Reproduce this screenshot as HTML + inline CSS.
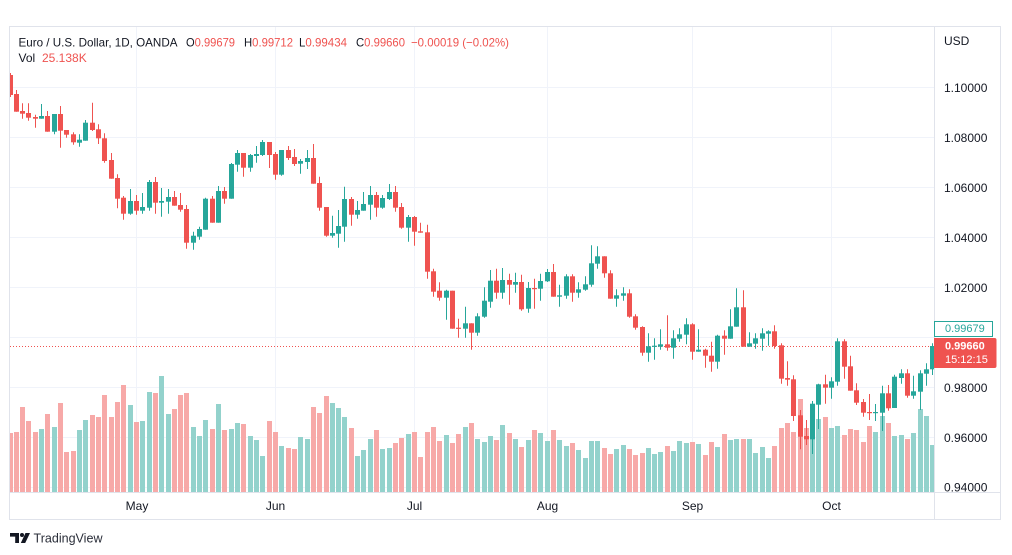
<!DOCTYPE html>
<html><head><meta charset="utf-8"><style>
html,body{margin:0;padding:0;background:#fff;}
svg{display:block;font-family:"Liberation Sans",sans-serif;}
</style></head><body>
<svg width="1012" height="555" viewBox="0 0 1012 555" xmlns="http://www.w3.org/2000/svg">
<defs><clipPath id="cp"><rect x="10" y="27" width="924" height="465"/></clipPath></defs>
<rect width="1012" height="555" fill="#fff"/>
<!-- grid -->
<g stroke="#f0f3fa" stroke-width="1">
<path d="M10 87.5H934M10 137.5H934M10 187.5H934M10 237.5H934M10 287.5H934M10 337.5H934M10 387.5H934M10 437.5H934M10 487.5H934"/>
<path d="M136.5 27V492M275.5 27V492M414.5 27V492M547.5 27V492M692.5 27V492M831.5 27V492"/>
</g>
<g clip-path="url(#cp)">
<!-- volume pink -->
<g fill="#f7a9a8">
<rect x="8" y="433" width="5" height="59"/><rect x="14" y="432" width="5" height="60"/><rect x="20" y="407" width="5" height="85"/><rect x="26" y="421" width="5" height="71"/><rect x="33" y="432" width="5" height="60"/><rect x="45" y="414" width="5" height="78"/><rect x="58" y="403" width="5" height="89"/><rect x="64" y="452" width="5" height="40"/><rect x="71" y="451" width="5" height="41"/><rect x="90" y="415" width="5" height="77"/><rect x="96" y="417" width="5" height="75"/><rect x="102" y="395" width="5" height="97"/><rect x="109" y="417" width="5" height="75"/><rect x="115" y="402" width="5" height="90"/><rect x="121" y="385" width="5" height="107"/><rect x="134" y="422" width="5" height="70"/><rect x="153" y="393" width="5" height="99"/><rect x="172" y="409" width="5" height="83"/><rect x="178" y="395" width="5" height="97"/><rect x="184" y="393" width="5" height="99"/><rect x="210" y="429" width="5" height="63"/><rect x="222" y="430" width="5" height="62"/><rect x="241" y="424" width="5" height="68"/><rect x="267" y="421" width="5" height="71"/><rect x="273" y="432" width="5" height="60"/><rect x="286" y="448" width="5" height="44"/><rect x="292" y="449" width="5" height="43"/><rect x="311" y="407" width="5" height="85"/><rect x="317" y="413" width="5" height="79"/><rect x="324" y="396" width="5" height="96"/><rect x="349" y="428" width="5" height="64"/><rect x="374" y="430" width="5" height="62"/><rect x="393" y="443" width="5" height="49"/><rect x="399" y="438" width="5" height="54"/><rect x="412" y="432" width="5" height="60"/><rect x="418" y="457" width="5" height="35"/><rect x="425" y="432" width="5" height="60"/><rect x="431" y="427" width="5" height="65"/><rect x="437" y="441" width="5" height="51"/><rect x="450" y="443" width="5" height="49"/><rect x="456" y="434" width="5" height="58"/><rect x="469" y="423" width="5" height="69"/><rect x="494" y="440" width="5" height="52"/><rect x="507" y="433" width="5" height="59"/><rect x="519" y="447" width="5" height="45"/><rect x="532" y="430" width="5" height="62"/><rect x="551" y="430" width="5" height="62"/><rect x="570" y="443" width="5" height="49"/><rect x="602" y="448" width="5" height="44"/><rect x="608" y="454" width="5" height="38"/><rect x="627" y="449" width="5" height="43"/><rect x="633" y="455" width="5" height="37"/><rect x="640" y="453" width="5" height="39"/><rect x="665" y="446" width="5" height="46"/><rect x="690" y="442" width="5" height="50"/><rect x="703" y="455" width="5" height="37"/><rect x="709" y="442" width="5" height="50"/><rect x="722" y="434" width="5" height="58"/><rect x="741" y="439" width="5" height="53"/><rect x="772" y="446" width="5" height="46"/><rect x="779" y="428" width="5" height="64"/><rect x="785" y="423" width="5" height="69"/><rect x="791" y="432" width="5" height="60"/><rect x="798" y="399" width="5" height="93"/><rect x="804" y="428" width="5" height="64"/><rect x="823" y="417" width="5" height="75"/><rect x="842" y="435" width="5" height="57"/><rect x="848" y="429" width="5" height="63"/><rect x="854" y="430" width="5" height="62"/><rect x="861" y="442" width="5" height="50"/><rect x="867" y="426" width="5" height="66"/><rect x="886" y="423" width="5" height="69"/><rect x="905" y="439" width="5" height="53"/>
</g>
<!-- volume green -->
<g fill="#93d2cc">
<rect x="39" y="429" width="5" height="63"/><rect x="52" y="427" width="5" height="65"/><rect x="77" y="430" width="5" height="62"/><rect x="83" y="420" width="5" height="72"/><rect x="128" y="405" width="5" height="87"/><rect x="140" y="421" width="5" height="71"/><rect x="147" y="392" width="5" height="100"/><rect x="159" y="376" width="5" height="116"/><rect x="166" y="414" width="5" height="78"/><rect x="191" y="427" width="5" height="65"/><rect x="197" y="436" width="5" height="56"/><rect x="203" y="420" width="5" height="72"/><rect x="216" y="404" width="5" height="88"/><rect x="229" y="429" width="5" height="63"/><rect x="235" y="423" width="5" height="69"/><rect x="248" y="436" width="5" height="56"/><rect x="254" y="440" width="5" height="52"/><rect x="260" y="456" width="5" height="36"/><rect x="279" y="446" width="5" height="46"/><rect x="298" y="437" width="5" height="55"/><rect x="305" y="439" width="5" height="53"/><rect x="330" y="403" width="5" height="89"/><rect x="336" y="408" width="5" height="84"/><rect x="342" y="417" width="5" height="75"/><rect x="355" y="456" width="5" height="36"/><rect x="361" y="450" width="5" height="42"/><rect x="368" y="439" width="5" height="53"/><rect x="380" y="449" width="5" height="43"/><rect x="387" y="448" width="5" height="44"/><rect x="406" y="434" width="5" height="58"/><rect x="444" y="435" width="5" height="57"/><rect x="463" y="427" width="5" height="65"/><rect x="475" y="439" width="5" height="53"/><rect x="482" y="442" width="5" height="50"/><rect x="488" y="436" width="5" height="56"/><rect x="500" y="425" width="5" height="67"/><rect x="513" y="439" width="5" height="53"/><rect x="526" y="440" width="5" height="52"/><rect x="538" y="433" width="5" height="59"/><rect x="545" y="441" width="5" height="51"/><rect x="557" y="440" width="5" height="52"/><rect x="564" y="446" width="5" height="46"/><rect x="576" y="450" width="5" height="42"/><rect x="583" y="458" width="5" height="34"/><rect x="589" y="441" width="5" height="51"/><rect x="595" y="441" width="5" height="51"/><rect x="614" y="449" width="5" height="43"/><rect x="621" y="445" width="5" height="47"/><rect x="646" y="448" width="5" height="44"/><rect x="652" y="454" width="5" height="38"/><rect x="658" y="452" width="5" height="40"/><rect x="671" y="451" width="5" height="41"/><rect x="677" y="441" width="5" height="51"/><rect x="684" y="443" width="5" height="49"/><rect x="696" y="444" width="5" height="48"/><rect x="715" y="447" width="5" height="45"/><rect x="728" y="440" width="5" height="52"/><rect x="734" y="439" width="5" height="53"/><rect x="747" y="439" width="5" height="53"/><rect x="753" y="453" width="5" height="39"/><rect x="760" y="447" width="5" height="45"/><rect x="766" y="458" width="5" height="34"/><rect x="810" y="436" width="5" height="56"/><rect x="816" y="419" width="5" height="73"/><rect x="829" y="428" width="5" height="64"/><rect x="835" y="426" width="5" height="66"/><rect x="873" y="432" width="5" height="60"/><rect x="880" y="416" width="5" height="76"/><rect x="892" y="436" width="5" height="56"/><rect x="899" y="435" width="5" height="57"/><rect x="911" y="433" width="5" height="59"/><rect x="918" y="409" width="5" height="83"/><rect x="924" y="416" width="5" height="76"/><rect x="930" y="445" width="5" height="47"/>
</g>
<!-- dotted last price line -->
<path d="M10 346.5H934" stroke="#ef5350" stroke-width="1" stroke-dasharray="1 2"/>
<!-- red wicks -->
<path stroke="#ef5350" stroke-width="1" fill="none" d="M10.5 73V97M16.5 90V111.7M22.5 103.3V118.7M28.5 103.3V120.7M35.5 114.7V127.7M47.5 111V131.7M60.5 106V147.7M66.5 130V137.7M73.5 132.3V144.7M92.5 102.7V131M98.5 124.3V144M104.5 133.3V162.7M111.5 153V178.7M117.5 174.3V208.3M123.5 196V219.7M136.5 195V214.7M155.5 177V213.7M174.5 191V205.7M180.5 193V211.7M186.5 205V248.7M212.5 196V222.7M224.5 187V203.7M243.5 153V176.7M269.5 142V168M275.5 152V179.7M288.5 146V160M294.5 149V166M313.5 144V183.7M319.5 176.7V210.7M326.5 207V236.7M351.5 197V225.7M376.5 192V216.7M395.5 186V211.7M401.5 203V228.7M414.5 216V245.7M420.5 222.7V232.7M427.5 224.7V278.7M433.5 268.7V296.7M439.5 282.3V300.7M452.5 290.7V328.7M458.5 318.7V337.7M471.5 323.3V349.7M496.5 268.7V298.7M509.5 273.7V304.7M521.5 274.7V310.7M534.5 278.7V308.7M553.5 264V296.7M572.5 274.3V301.7M604.5 256.3V277.7M610.5 270.3V298.7M629.5 289.3V317.7M635.5 314.3V329.7M642.5 326.3V355.7M667.5 315.3V350.7M692.5 323.3V359.7M705.5 348.7V367.7M711.5 341.7V371.7M724.5 330.3V354.7M743.5 290.3V346.7M774.5 325.3V348.7M781.5 343.3V383.7M787.5 361.3V385.7M793.5 375.3V421M800.5 410V449.3M806.5 420V445M825.5 374.7V403.7M844.5 339.3V378.7M850.5 355.7V390.7M856.5 383.3V405M863.5 399V416.7M869.5 394V420M888.5 385V410.7M907.5 369.3V397.7"/>
<!-- green wicks -->
<path stroke="#26a69a" stroke-width="1" fill="none" d="M41.5 104V118.7M54.5 114V134.3M79.5 134.3V146.7M85.5 120V140.7M130.5 189V214.7M142.5 193V213.7M149.5 180V210.7M161.5 188V216.7M168.5 189V213.7M193.5 231.7V249.7M199.5 226.7V239.7M205.5 197.7V229.7M218.5 186V222.7M231.5 163V198.7M237.5 150V171.7M250.5 154V171.7M256.5 146V162.7M262.5 140V156M281.5 150V175.7M300.5 159V173.7M307.5 150V169M332.5 215.7V237.7M338.5 210V247.7M344.5 186.7V241.7M357.5 201V218.7M363.5 192V210.7M370.5 186V219.7M382.5 195V208.7M389.5 184V200M408.5 215V241.7M446.5 289.7V319.7M465.5 306.7V337.7M477.5 313.3V335.7M484.5 287.3V317.7M490.5 270V307.7M502.5 268V298.7M515.5 272.7V292.7M528.5 282V312.7M540.5 273.7V300.7M547.5 269V282M559.5 284.7V306.7M566.5 274.3V298.7M578.5 282.3V297.7M585.5 276.3V290.7M591.5 245.3V286.7M597.5 246.3V268.7M616.5 289.3V306.7M623.5 287.3V300.7M648.5 333.3V361.7M654.5 338.3V359.7M660.5 329.3V349.7M673.5 330.3V358.7M679.5 328.3V341.7M686.5 318.3V344.3M698.5 329.3V351.7M717.5 334.7V368.7M730.5 309.3V338.7M736.5 288.3V326.7M749.5 332.3V346.7M755.5 333.3V348.7M762.5 328.3V350.7M768.5 330.3V345.7M812.5 401V454M818.5 383.7V429M831.5 377.3V398.7M837.5 338.3V385.7M875.5 404V421M882.5 385.7V431M894.5 374.7V408M901.5 369.3V383.7M913.5 375.7V398.7M920.5 370.3V410M926.5 363.3V385.7M932.5 343.3V375"/>
<!-- red bodies -->
<g fill="#ef5350">
<rect x="8" y="75" width="5" height="20"/><rect x="14" y="94" width="5" height="17.7"/><rect x="20" y="111" width="5" height="2.7"/><rect x="26" y="113" width="5" height="4.7"/><rect x="33" y="117" width="5" height="1.7"/><rect x="45" y="116" width="5" height="15.7"/><rect x="58" y="114" width="5" height="16.7"/><rect x="64" y="130" width="5" height="4.7"/><rect x="71" y="134.3" width="5" height="8"/><rect x="90" y="122.7" width="5" height="7.3"/><rect x="96" y="129.3" width="5" height="9"/><rect x="102" y="138.3" width="5" height="22.7"/><rect x="109" y="160" width="5" height="18.7"/><rect x="115" y="178" width="5" height="20.7"/><rect x="121" y="197.7" width="5" height="16"/><rect x="134" y="201" width="5" height="9.7"/><rect x="153" y="182" width="5" height="20.7"/><rect x="172" y="197" width="5" height="8.7"/><rect x="178" y="205" width="5" height="4.7"/><rect x="184" y="209" width="5" height="33.7"/><rect x="210" y="198.7" width="5" height="24"/><rect x="222" y="191" width="5" height="7.7"/><rect x="241" y="153" width="5" height="14.7"/><rect x="267" y="142" width="5" height="13"/><rect x="273" y="154" width="5" height="20.7"/><rect x="286" y="150" width="5" height="8"/><rect x="292" y="157" width="5" height="7"/><rect x="311" y="158" width="5" height="25.7"/><rect x="317" y="183" width="5" height="24.7"/><rect x="324" y="207" width="5" height="28.7"/><rect x="349" y="199" width="5" height="15.7"/><rect x="374" y="195" width="5" height="12.7"/><rect x="393" y="192" width="5" height="15.7"/><rect x="399" y="207" width="5" height="20.7"/><rect x="412" y="217" width="5" height="14.7"/><rect x="418" y="231.3" width="5" height="1.4"/><rect x="425" y="232.3" width="5" height="39.4"/><rect x="431" y="271.3" width="5" height="20.4"/><rect x="437" y="290.7" width="5" height="7"/><rect x="450" y="290.7" width="5" height="38"/><rect x="456" y="327.7" width="5" height="1.2"/><rect x="469" y="323.3" width="5" height="9.4"/><rect x="494" y="280.7" width="5" height="12"/><rect x="507" y="280" width="5" height="4.7"/><rect x="519" y="282" width="5" height="27.3"/><rect x="532" y="288" width="5" height="1.2"/><rect x="551" y="272" width="5" height="24.7"/><rect x="570" y="276.3" width="5" height="16.4"/><rect x="602" y="256.3" width="5" height="17"/><rect x="608" y="273.3" width="5" height="25.4"/><rect x="627" y="293.3" width="5" height="23.4"/><rect x="633" y="316.3" width="5" height="11.4"/><rect x="640" y="327" width="5" height="25.7"/><rect x="665" y="344.3" width="5" height="3.4"/><rect x="690" y="324.3" width="5" height="27.4"/><rect x="703" y="349.7" width="5" height="6"/><rect x="709" y="355.7" width="5" height="6"/><rect x="722" y="335.7" width="5" height="3"/><rect x="741" y="307.3" width="5" height="39.4"/><rect x="772" y="331.3" width="5" height="14.7"/><rect x="779" y="345.3" width="5" height="33.4"/><rect x="785" y="378" width="5" height="1.7"/><rect x="791" y="379.3" width="5" height="36.7"/><rect x="798" y="415.3" width="5" height="21.4"/><rect x="804" y="436" width="5" height="3.3"/><rect x="823" y="384.3" width="5" height="3.4"/><rect x="842" y="341.3" width="5" height="25.4"/><rect x="848" y="366.3" width="5" height="24.4"/><rect x="854" y="390.3" width="5" height="12.4"/><rect x="861" y="402" width="5" height="10.7"/><rect x="867" y="412" width="5" height="1.2"/><rect x="886" y="393.3" width="5" height="15"/><rect x="905" y="373.3" width="5" height="22.4"/>
</g>
<!-- green bodies -->
<g fill="#26a69a">
<rect x="39" y="116" width="5" height="2.7"/><rect x="52" y="114" width="5" height="17.7"/><rect x="77" y="139.7" width="5" height="3"/><rect x="83" y="122.7" width="5" height="18"/><rect x="128" y="201" width="5" height="12.7"/><rect x="140" y="207" width="5" height="3.7"/><rect x="147" y="182" width="5" height="25.7"/><rect x="159" y="201" width="5" height="1.7"/><rect x="166" y="197" width="5" height="4.7"/><rect x="191" y="235.7" width="5" height="7"/><rect x="197" y="229" width="5" height="7.7"/><rect x="203" y="198.7" width="5" height="31"/><rect x="216" y="191" width="5" height="31.7"/><rect x="229" y="164" width="5" height="34.7"/><rect x="235" y="153" width="5" height="11.7"/><rect x="248" y="155" width="5" height="12.7"/><rect x="254" y="154" width="5" height="2"/><rect x="260" y="142" width="5" height="13"/><rect x="279" y="150" width="5" height="24.7"/><rect x="298" y="161" width="5" height="2.7"/><rect x="305" y="158" width="5" height="4"/><rect x="330" y="233" width="5" height="2.7"/><rect x="336" y="226" width="5" height="7.7"/><rect x="342" y="199" width="5" height="27.7"/><rect x="355" y="210" width="5" height="4.7"/><rect x="361" y="204" width="5" height="6.7"/><rect x="368" y="195" width="5" height="9.7"/><rect x="380" y="198" width="5" height="9.7"/><rect x="387" y="192" width="5" height="7"/><rect x="406" y="217" width="5" height="10.7"/><rect x="444" y="290.7" width="5" height="7"/><rect x="463" y="323.3" width="5" height="5.4"/><rect x="475" y="316.3" width="5" height="16.4"/><rect x="482" y="300.7" width="5" height="16"/><rect x="488" y="280.7" width="5" height="21"/><rect x="500" y="280" width="5" height="12.7"/><rect x="513" y="282" width="5" height="2.7"/><rect x="526" y="288" width="5" height="20.7"/><rect x="538" y="281" width="5" height="7.7"/><rect x="545" y="272" width="5" height="9.3"/><rect x="557" y="295.3" width="5" height="1.4"/><rect x="564" y="276.3" width="5" height="19.4"/><rect x="576" y="289.3" width="5" height="3.4"/><rect x="583" y="284.3" width="5" height="5.4"/><rect x="589" y="263.3" width="5" height="21.4"/><rect x="595" y="256.3" width="5" height="7.4"/><rect x="614" y="295.3" width="5" height="3.4"/><rect x="621" y="293.3" width="5" height="2.4"/><rect x="646" y="346.3" width="5" height="6.4"/><rect x="652" y="345.7" width="5" height="1.2"/><rect x="658" y="344.3" width="5" height="2.4"/><rect x="671" y="338.3" width="5" height="9.4"/><rect x="677" y="334.3" width="5" height="4.4"/><rect x="684" y="324.3" width="5" height="10.4"/><rect x="696" y="349.7" width="5" height="2"/><rect x="715" y="335.7" width="5" height="26"/><rect x="728" y="326.3" width="5" height="12.4"/><rect x="734" y="307.3" width="5" height="19.4"/><rect x="747" y="343.3" width="5" height="3.4"/><rect x="753" y="338.3" width="5" height="5.4"/><rect x="760" y="333.3" width="5" height="5.4"/><rect x="766" y="331.3" width="5" height="2.4"/><rect x="810" y="403.7" width="5" height="35.6"/><rect x="816" y="384.3" width="5" height="20.4"/><rect x="829" y="381.3" width="5" height="6.4"/><rect x="835" y="341.3" width="5" height="40.4"/><rect x="873" y="412" width="5" height="1.2"/><rect x="880" y="393.3" width="5" height="19.4"/><rect x="892" y="376.7" width="5" height="31.3"/><rect x="899" y="373.3" width="5" height="4.7"/><rect x="911" y="391.3" width="5" height="4.4"/><rect x="918" y="373.3" width="5" height="18.4"/><rect x="924" y="369.3" width="5" height="4.4"/><rect x="930" y="346" width="5" height="23.3"/>
</g>
</g>
<!-- frame -->
<g stroke="#e0e3eb" stroke-width="1" fill="none">
<rect x="9.5" y="26.5" width="991" height="493"/>
<path d="M934.5 27V519M10 492.5H1001"/>
</g>
<!-- legend -->
<g font-size="12" fill="#131722" lengthAdjust="spacingAndGlyphs">
<text x="18.5" y="46.5" textLength="159" lengthAdjust="spacingAndGlyphs">Euro / U.S. Dollar, 1D, OANDA</text>
<text x="186" y="46.5" textLength="49" lengthAdjust="spacingAndGlyphs">O<tspan fill="#ef5350">0.99679</tspan></text>
<text x="244" y="46.5" textLength="49" lengthAdjust="spacingAndGlyphs">H<tspan fill="#ef5350">0.99712</tspan></text>
<text x="299" y="46.5" textLength="48" lengthAdjust="spacingAndGlyphs">L<tspan fill="#ef5350">0.99434</tspan></text>
<text x="356" y="46.5" textLength="49" lengthAdjust="spacingAndGlyphs">C<tspan fill="#ef5350">0.99660</tspan></text>
<text x="411" y="46.5" fill="#ef5350" textLength="98" lengthAdjust="spacingAndGlyphs">−0.00019 (−0.02%)</text>
<text x="18.5" y="62">Vol</text>
<text x="42" y="62" fill="#ef5350">25.138K</text>
</g>
<!-- price axis -->
<g font-size="12" fill="#131722" dominant-baseline="central">
<text x="944" y="41">USD</text>
<text x="944" y="88">1.10000</text>
<text x="944" y="138">1.08000</text>
<text x="944" y="188">1.06000</text>
<text x="944" y="238">1.04000</text>
<text x="944" y="288">1.02000</text>
<text x="944" y="388">0.98000</text>
<text x="944" y="438">0.96000</text>
<text x="944" y="487.5">0.94000</text>
</g>
<!-- price labels -->
<rect x="934.5" y="321.5" width="58" height="15" fill="#fff" stroke="#26a69a" stroke-width="1"/>
<text x="945" y="329" font-size="11" fill="#26a69a" dominant-baseline="central">0.99679</text>
<path d="M934 338H994.5Q996.5 338 996.5 340V366Q996.5 368 994.5 368H934Z" fill="#ef5350"/>
<text x="945" y="346.5" font-size="11" font-weight="bold" fill="#fff" dominant-baseline="central">0.99660</text>
<text x="945" y="360" font-size="11" fill="#fff" dominant-baseline="central">15:12:15</text>
<!-- time axis -->
<g font-size="12" fill="#131722" text-anchor="middle" dominant-baseline="central">
<text x="137" y="506">May</text>
<text x="275.5" y="506">Jun</text>
<text x="414.5" y="506">Jul</text>
<text x="547.5" y="506">Aug</text>
<text x="692.5" y="506">Sep</text>
<text x="831.5" y="506">Oct</text>
</g>
<!-- logo -->
<g fill="#131722">
<path d="M10 533H19V543H15.2V536.6H10Z"/>
<circle cx="22" cy="535" r="2"/>
<path d="M25.5 533H30L25.2 543H20.8Z"/>
</g>
<text x="33.5" y="542.5" font-size="13" fill="#2a2e39" textLength="69" lengthAdjust="spacingAndGlyphs">TradingView</text>
</svg>
</body></html>
